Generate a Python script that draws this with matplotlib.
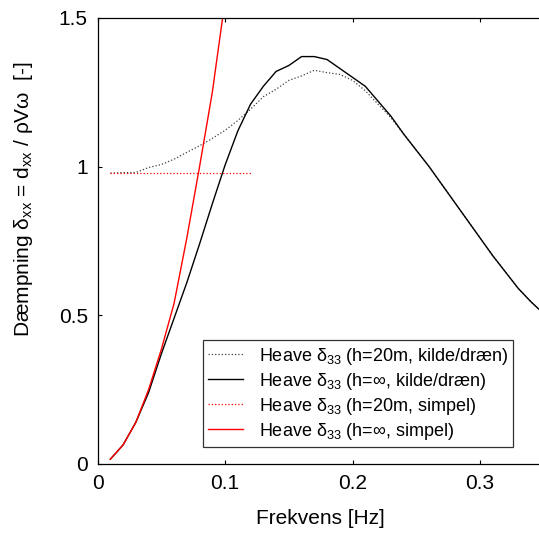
import numpy as np
import matplotlib.pyplot as plt

plt.rcParams['font.family'] = ['Liberation Sans', 'DejaVu Sans']
plt.rcParams['mathtext.default'] = 'regular'

# frequency [Hz]
freq = [0.01, 0.02, 0.03, 0.04, 0.05, 0.06, 0.07, 0.08, 0.09, 0.10,
        0.11, 0.12, 0.13, 0.14, 0.15, 0.16, 0.17, 0.18, 0.19, 0.20,
        0.21, 0.22, 0.23, 0.24, 0.25, 0.26, 0.27, 0.28, 0.29, 0.30,
        0.31, 0.32, 0.33, 0.34, 0.35]

# h=inf, kilde/draen
d_inf_kilde = [0.016, 0.064, 0.14, 0.24, 0.37, 0.49, 0.61, 0.74, 0.875, 1.005,
               1.12, 1.21, 1.27, 1.32, 1.34, 1.37, 1.37, 1.36, 1.33, 1.30,
               1.27, 1.22, 1.17, 1.11, 1.055, 1.0, 0.94, 0.88, 0.82, 0.76,
               0.70, 0.645, 0.59, 0.545, 0.505]

# h=20m, kilde/draen
d_20_kilde = [0.978, 0.98, 0.98, 0.997, 1.007, 1.025, 1.048, 1.07, 1.095, 1.122,
              1.155, 1.193, 1.235, 1.26, 1.29, 1.305, 1.324, 1.316, 1.31, 1.29,
              1.255, 1.21, 1.165, 1.11, 1.055, 1.0, 0.94, 0.88, 0.82, 0.76,
              0.70, 0.645, 0.59, 0.545, 0.505]

# simpel
freq_simpel = [0.01, 0.02, 0.03, 0.04, 0.05, 0.06, 0.07, 0.08, 0.09, 0.10, 0.11, 0.12]
d_20_simpel = [0.978, 0.978, 0.978, 0.978, 0.978, 0.978, 0.978, 0.978, 0.978, 0.978, 0.978, 0.978]
d_inf_simpel = [0.016, 0.064, 0.14, 0.25, 0.385, 0.54, 0.76, 1.0, 1.25, 1.56, 1.9, 2.28]

fig = plt.figure(figsize=(5.39, 5.43), dpi=100)
ax = fig.add_axes([0.181, 0.1455, 0.828, 0.8215])

ax.plot(freq, d_20_kilde, ':', color='0.25', lw=0.9,
        label='Heave δ$_{33}$ (h=20m, kilde/dræn)')
ax.plot(freq, d_inf_kilde, '-', color='k', lw=1.0,
        label='Heave δ$_{33}$ (h=∞, kilde/dræn)')
ax.plot(freq_simpel, d_20_simpel, ':', color='red', lw=0.9,
        label='Heave δ$_{33}$ (h=20m, simpel)')
ax.plot(freq_simpel, d_inf_simpel, '-', color='red', lw=1.0,
        label='Heave δ$_{33}$ (h=∞, simpel)')

ax.set_xlim(0, 0.35)
ax.set_ylim(0, 1.5)
ax.set_xticks([0, 0.1, 0.2, 0.3])
ax.set_xticklabels(['0', '0.1', '0.2', '0.3'])
ax.set_yticks([0, 0.5, 1, 1.5])
ax.set_yticklabels(['0', '0.5', '1', '1.5'])
ax.tick_params(direction='in', top=True, right=True, length=3, pad=7, labelsize=15)
for s in ax.spines.values():
    s.set_linewidth(0.9)

ax.set_xlabel('Frekvens [Hz]', fontsize=15, labelpad=12)
ax.set_ylabel('Dæmpning δ$_{xx}$ = d$_{xx}$ / ρVω  [-]', fontsize=15)
ax.yaxis.set_label_coords(-0.14, 0.594)

leg = ax.legend(loc='lower left', bbox_to_anchor=(0.236, 0.038), borderaxespad=0,
                fontsize=13, frameon=True, fancybox=False, edgecolor='k',
                handlelength=1.9, handletextpad=0.9, labelspacing=0.22,
                borderpad=0.3)
leg.get_frame().set_linewidth(0.9)

plt.savefig('out.png', dpi=100)
